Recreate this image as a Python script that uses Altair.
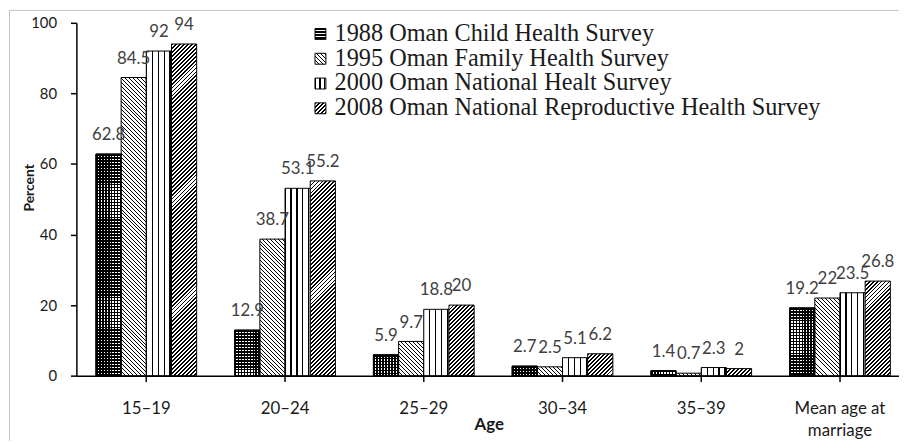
import json
import altair as alt
import pandas as pd

# ---------------- data ----------------
categories = ["15–19", "20–24", "25–29", "30–34", "35–39", "Mean age at marriage"]
surveys = [
    "1988 Oman Child Health Survey",
    "1995 Oman Family Health Survey",
    "2000 Oman National Healt Survey",
    "2008 Oman National Reproductive Health Survey",
]
v1988 = [62.8, 12.9, 5.9, 2.7, 1.4, 19.2]
v1995 = [84.5, 38.7, 9.7, 2.5, 0.7, 22]
v2000 = [92, 53.1, 18.8, 5.1, 2.3, 23.5]
v2008 = [94, 55.2, 20, 6.2, 2, 26.8]
y_ticks = [0, 20, 40, 60, 80, 100]
series = [v1988, v1995, v2000, v2008]

# ---------------- layout ----------------
PLOT_W = 830      # visible part of the plot
RANGE_W = 841     # the axis runs past the cropped right edge
PLOT_H = 356
PAD_IN, PAD_OUT = 0.274, 0.141
step = RANGE_W / (len(categories) - PAD_IN + 2 * PAD_OUT)
BAR_W = step * (1 - PAD_IN) / len(surveys)

rows = []
for si, s in enumerate(surveys):
    for ci, c in enumerate(categories):
        rows.append({"cat": c, "survey": s, "value": series[si][ci], "idx": len(rows)})
df = pd.DataFrame(rows)

INK = "#000000"
PAPER = "#ffffff"
CLEAR = "rgba(0,0,0,0)"


def stripe_stops(L, period, ink, c_ink, c_bg, phase=0.0):
    stops = []
    k = -1
    while phase + k * period < L:
        a = phase + k * period
        for lo, hi, col in ((a, a + ink, c_ink), (a + ink, a + period, c_bg)):
            lo2, hi2 = max(lo, 0.0), min(hi, L)
            if hi2 > lo2:
                stops.append({"offset": round(lo2 / L, 5), "color": col})
                stops.append({"offset": round(hi2 / L, 5), "color": col})
        k += 1
    return stops


def grad_rows(h, period, ink, c_ink, c_bg):
    return {"gradient": "linear", "x1": 0, "y1": 0, "x2": 0, "y2": 1,
            "stops": stripe_stops(h, period, ink, c_ink, c_bg)}


def grad_cols(w, period, ink, c_ink, c_bg, phase=0.0):
    return {"gradient": "linear", "x1": 0, "y1": 0, "x2": 1, "y2": 0,
            "stops": stripe_stops(w, period, ink, c_ink, c_bg, phase)}


def grad_diag(w, h, period, ink, c_ink, c_bg, forward=True):
    k = (w + h) * w / (w * w + h * h)
    if forward:   # "/"
        x1, y1, x2, y2 = 0, 0, k, k * h / w
    else:         # "\"
        x1, y1, x2, y2 = 0, 1, k, 1 - k * h / w
    return {"gradient": "linear", "x1": x1, "y1": y1, "x2": round(x2, 6), "y2": round(y2, 6),
            "stops": stripe_stops(w + h, period, ink, c_ink, c_bg)}


DOT_INK = 1.7


def pattern(si, w, h):
    if si == 0:
        return grad_rows(h, 3.0, DOT_INK, INK, PAPER)
    if si == 1:
        return grad_diag(w, h, 4.0, 1.0, INK, PAPER, forward=False)
    if si == 2:
        return grad_cols(w, 6.0, 1.2, INK, PAPER, phase=5.4)
    return grad_diag(w, h, 4.0, 1.9, INK, PAPER, forward=True)


fill_cond = []
for r in rows:
    si = surveys.index(r["survey"])
    h = r["value"] / 100.0 * PLOT_H
    fill_cond.append({"test": f"datum.idx == {r['idx']}", "value": pattern(si, BAR_W, h)})

SYM = 11
legend_grads = [
    grad_rows(SYM, 3.0, DOT_INK, INK, PAPER),
    grad_diag(SYM, SYM, 4.0, 1.0, INK, PAPER, forward=False),
    grad_cols(SYM, 5.0, 1.2, INK, PAPER, phase=4.4),
    grad_diag(SYM, SYM, 4.0, 1.9, INK, PAPER, forward=True),
]
legend_range = [alt.ExprRef(expr=json.dumps(g)) for g in legend_grads]

x_enc = alt.X(
    "cat:N", sort=categories, title="Age",
    scale=alt.Scale(range=[0, RANGE_W], paddingInner=PAD_IN, paddingOuter=PAD_OUT),
    axis=alt.Axis(
        labelAngle=0, labelFontSize=17, labelPadding=19, tickSize=6,
        labelExpr="datum.label == 'Mean age at marriage' ? ['Mean age at', 'marriage'] : datum.label",
        labelLineHeight=22, titleX=416, titleY=54, titleBaseline="alphabetic", titleFontSize=17,
    ),
)
xo_enc = alt.XOffset("survey:N", sort=surveys, scale=alt.Scale(paddingInner=0, paddingOuter=0))
y_enc = alt.Y(
    "value:Q", title="Percent",
    scale=alt.Scale(domain=[0, 100], nice=False),
    axis=alt.Axis(values=y_ticks, grid=False, labelFontSize=15, labelPadding=14, tickSize=6,
                  titleX=-43, titleY=166, titleBaseline="alphabetic", titleAlign="center",
                  titleFontSize=14),
)

base = alt.Chart(df)

bars = base.mark_bar(stroke="black", strokeWidth=1).encode(
    x=x_enc, xOffset=xo_enc, y=y_enc,
    fill=alt.FillValue("white", condition=fill_cond),
)

overlay = base.transform_filter(alt.datum.survey == surveys[0]).mark_bar(
    stroke="black", strokeWidth=1,
    fill=grad_cols(BAR_W, 3.0, DOT_INK, INK, CLEAR),
).encode(x=x_enc, xOffset=xo_enc, y=y_enc)

labels = base.mark_text(
    dy=-14, baseline="alphabetic", font="Lato", fontSize=17, color="#404040"
).encode(x=x_enc, xOffset=xo_enc, y=y_enc, text=alt.Text("value:Q", format=".1~f"))

legend_layer = base.transform_filter("false").mark_bar(stroke="black", strokeWidth=1).encode(
    x=x_enc, xOffset=xo_enc, y=y_enc,
    fill=alt.Fill(
        "survey:N",
        scale=alt.Scale(domain=surveys, range=legend_range),
        legend=alt.Legend(
            title=None, orient="none", legendX=234, legendY=-1, padding=0,
            symbolType="square", symbolSize=SYM * SYM, symbolStrokeColor="black",
            symbolStrokeWidth=1,
            labelFont="Liberation Serif", labelFontSize=24.5, labelColor="#1a1a1a",
            labelOffset=2, labelLimit=700, rowPadding=0,
        ),
    ),
)

frame_data = alt.Data(values=[{"k": 1}])
frame_left = alt.Chart(frame_data).mark_rule(color="#c4c4c4", strokeWidth=1).encode(
    x=alt.value(-67.5), y=alt.value(-13), y2=alt.value(PLOT_H + 66)
)
frame_top = alt.Chart(frame_data).mark_rule(color="#c4c4c4", strokeWidth=1).encode(
    x=alt.value(-68), x2=alt.value(PLOT_W), y=alt.value(-12.5)
)

chart = (
    alt.layer(frame_left, frame_top, bars, overlay, labels, legend_layer)
    .properties(
        width=PLOT_W, height=PLOT_H,
        padding={"left": 69, "top": 13, "right": 0, "bottom": 66},
        autosize=alt.AutoSizeParams(type="none"),
        background="white",
    )
    .configure_view(stroke=None)
    .configure_axis(
        domainColor="black", domainWidth=1.5, tickColor="black", tickWidth=1.5,
        labelFont="Lato", labelColor="#1a1a1a",
        titleFont="Lato", titleFontWeight="bold", titleColor="#1a1a1a",
    )
)

chart.save("out.html", embed_options={"renderer": "svg", "actions": False})
